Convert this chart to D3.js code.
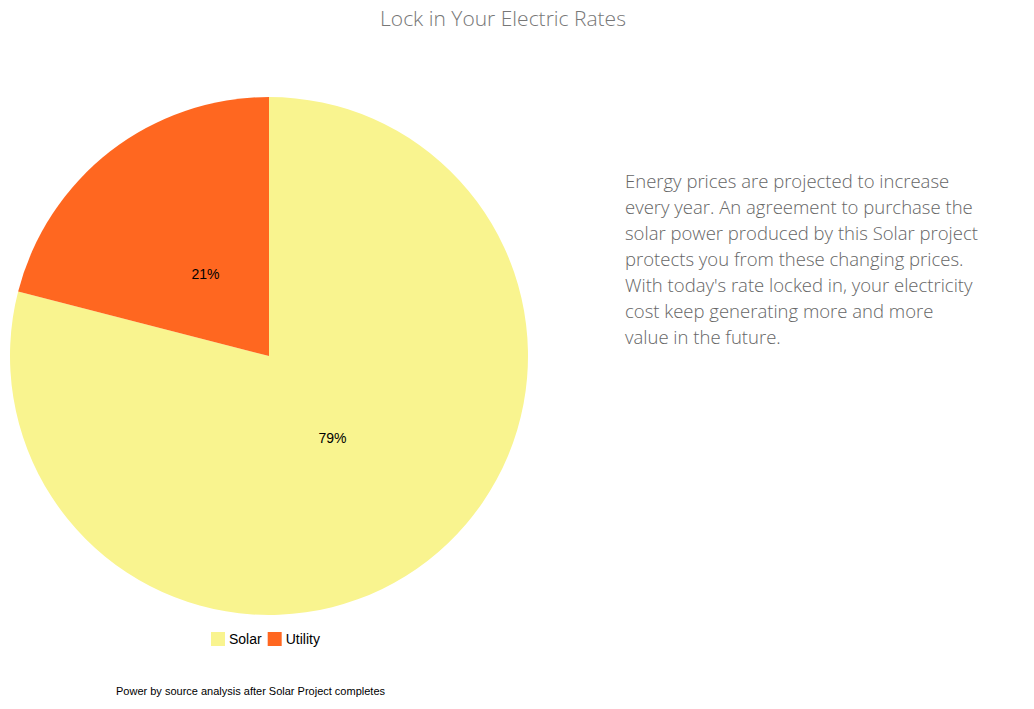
<!DOCTYPE html>
<html><head><meta charset="utf-8">
<script src="https://cdn.jsdelivr.net/npm/d3@7"></script>
<style>body{margin:0;background:#fff}</style></head>
<body><svg id="c" width="1034" height="709"></svg>
<script>
const categories=["Solar","Utility"];
const values=[79,21];
const colors=["#f9f48f","#ff6720"];
const title="Lock in Your Electric Rates";
const paragraph=["Energy prices are projected to increase","every year. An agreement to purchase the","solar power produced by this Solar project","protects you from these changing prices.","With today's rate locked in, your electricity","cost keep generating more and more","value in the future."];
const footnote="Power by source analysis after Solar Project completes";
const svg=d3.select("#c");
svg.append("text").attr("x",503).attr("y",26).attr("text-anchor","middle")
 .style("font-family","Open Sans").style("font-weight",300).style("font-size","21px").style("fill","#777").text(title);
const cx=269,cy=356,r=259;
const data=categories.map((c,i)=>({c,v:values[i],col:colors[i]}));
const pie=d3.pie().value(d=>d.v).sort(null);
const arc=d3.arc().innerRadius(0).outerRadius(r);
const g=svg.append("g").attr("transform",`translate(${cx},${cy})`);
const arcs=pie(data);
g.selectAll("path").data(arcs).join("path").attr("d",arc).attr("fill",d=>d.data.col);
const la=d3.arc().innerRadius(0).outerRadius(r*0.8);
g.selectAll("text").data(arcs).join("text")
 .attr("transform",d=>`translate(${la.centroid(d)})`).attr("text-anchor","middle").attr("dy","0.35em")
 .style("font-family","Arial, Liberation Sans").style("font-size","14px").text(d=>d.data.v+"%");
const lg=svg.append("g");
let x=211;
data.forEach(d=>{
 lg.append("rect").attr("x",x).attr("y",632).attr("width",14).attr("height",14).attr("fill",d.col);
 const t=lg.append("text").attr("x",x+18).attr("y",644).style("font-family","Arial, Liberation Sans").style("font-size","14px").text(d.c);
 x+=18+t.node().getComputedTextLength()+6;
});
const p=svg.append("text").style("font-family","Open Sans").style("font-weight",300).style("font-size","18.5px").style("fill","#666");
paragraph.forEach((l,i)=>p.append("tspan").attr("x",625).attr("y",188+i*26).text(l));
svg.append("text").attr("x",116).attr("y",695).style("font-family","Arial, Liberation Sans").style("font-size","11px").text(footnote);
</script></body></html>
